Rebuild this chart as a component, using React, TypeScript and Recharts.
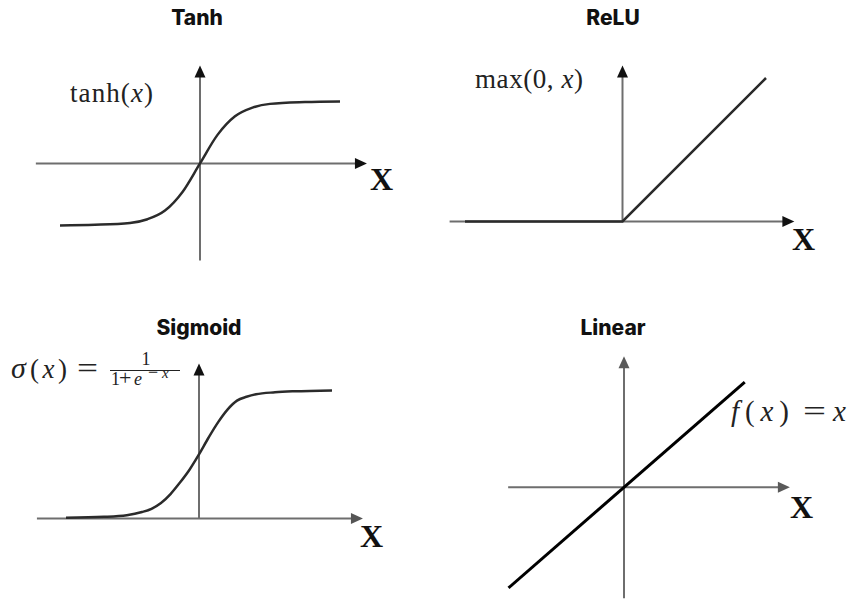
import { LineChart, Line, XAxis, YAxis, ReferenceLine } from 'recharts'

// values (x in axis units)
const tanhX = [-4, -3, -2, -1.5, -1, -0.5, 0, 0.5, 1, 1.5, 2, 3, 4]
const tanhY = [-1.0, -0.99, -0.96, -0.9, -0.76, -0.46, 0, 0.46, 0.76, 0.9, 0.96, 0.99, 1.0]

const reluX = [-4.5, 0, 4.1]
const reluY = [0, 0, 4.1]

const sigmoidX = [-7, -5, -3.8, -3, -2.5, -2, -1.5, -1, -0.5, 0, 0.5, 1, 1.5, 2, 2.5, 3, 4, 5, 7]
const sigmoidY = [0.005, 0.012, 0.025, 0.05, 0.075, 0.12, 0.19, 0.28, 0.38, 0.5, 0.63, 0.75, 0.85, 0.92, 0.95, 0.97, 0.985, 0.993, 1.0]

const linearX = [-3.3, 3.45]
const linearY = [-3.3, 3.45]

const titles = ['Tanh', 'ReLU', 'Sigmoid', 'Linear']

const AXIS = '#6e6e6e'
const CURVE = '#2b2b2b'

const toRows = (xs: number[], ys: number[]) => xs.map((x, i) => ({ x, y: ys[i] }))

// axis segment with an arrow head at its second point
const arrow = (head: string) => (p: any) => {
  const { x1, y1, x2, y2 } = p
  const len = Math.hypot(x2 - x1, y2 - y1) || 1
  const ux = (x2 - x1) / len
  const uy = (y2 - y1) / len
  const L = 12
  const W = 5.5
  const bx = x2 - ux * L
  const by = y2 - uy * L
  const pts = `${x2},${y2} ${bx - uy * W},${by + ux * W} ${bx + uy * W},${by - ux * W}`
  return (
    <g>
      <line x1={x1} y1={y1} x2={bx + ux} y2={by + uy} stroke={AXIS} strokeWidth={2} />
      <polygon points={pts} fill={head} />
    </g>
  )
}

type PanelProps = {
  left: number
  top: number
  width: number
  height: number
  xDomain: [number, number]
  yDomain: [number, number]
  xAxis: [number, number]
  yAxis: [number, number]
  xHead: string
  yHead: string
  data: { x: number; y: number }[]
  curve: 'monotone' | 'linear'
  strokeWidth: number
  color: string
}

function Panel(p: PanelProps) {
  return (
    <div style={{ position: 'absolute', left: p.left, top: p.top }}>
      <LineChart width={p.width} height={p.height} margin={{ top: 0, right: 0, bottom: 0, left: 0 }}>
        <XAxis type="number" dataKey="x" domain={p.xDomain} hide allowDataOverflow />
        <YAxis type="number" dataKey="y" domain={p.yDomain} hide allowDataOverflow />
        <ReferenceLine
          segment={[{ x: p.xAxis[0], y: 0 }, { x: p.xAxis[1], y: 0 }]}
          ifOverflow="visible"
          shape={arrow(p.xHead)}
        />
        <ReferenceLine
          segment={[{ x: 0, y: p.yAxis[0] }, { x: 0, y: p.yAxis[1] }]}
          ifOverflow="visible"
          shape={arrow(p.yHead)}
        />
        <Line
          data={p.data}
          dataKey="y"
          type={p.curve}
          stroke={p.color}
          strokeWidth={p.strokeWidth}
          dot={false}
          activeDot={false}
          isAnimationActive={false}
        />
      </LineChart>
    </div>
  )
}

const TITLE = { fontFamily: 'Inter, Roboto, sans-serif', fontWeight: 800, fontSize: 21, fill: '#111' }
const MATH = { fontFamily: '"Liberation Serif", serif', fontSize: 27, fill: '#222' }
const SMALL = { fontFamily: '"Liberation Serif", serif', fontSize: 18, fill: '#222' }
const BIGX = { fontFamily: '"Liberation Serif", serif', fontWeight: 700, fontSize: 32, fill: '#111' }

export default function App() {
  return (
    <div style={{ position: 'absolute', left: 0, top: 0, width: 850, height: 599, background: '#fff' }}>
      <Panel
        left={25} top={57.6} width={350} height={210.8}
        xDomain={[-5, 5]} yDomain={[-1.7, 1.7]}
        xAxis={[-4.69, 4.77]} yAxis={[-1.565, 1.58]}
        xHead="#111" yHead="#111"
        data={toRows(tanhX, tanhY)} curve="monotone" strokeWidth={2.5} color={CURVE}
      />
      <Panel
        left={429.5} top={63.5} width={385} height={227.5}
        xDomain={[-5.5, 5.5]} yDomain={[-2, 4.5]}
        xAxis={[-4.94, 4.91]} yAxis={[0, 4.46]}
        xHead="#111" yHead="#111"
        data={toRows(reluX, reluY)} curve="linear" strokeWidth={2.5} color={CURVE}
      />
      <Panel
        left={28} top={351.6} width={342} height={204.8}
        xDomain={[-9, 9]} yDomain={[-0.3, 1.3]}
        xAxis={[-8.53, 8.63]} yAxis={[0, 1.21]}
        xHead="#555" yHead="#111"
        data={toRows(sigmoidX, sigmoidY)} curve="monotone" strokeWidth={2.5} color={CURVE}
      />
      <Panel
        left={449} top={346.7} width={350} height={262.3}
        xDomain={[-5, 5]} yDomain={[-4, 4.6]}
        xAxis={[-3.31, 4.74]} yAxis={[-3.64, 4.3]}
        xHead="#5a5a5a" yHead="#5a5a5a"
        data={toRows(linearX, linearY)} curve="linear" strokeWidth={3} color="#000"
      />

      <svg width={850} height={599} style={{ position: 'absolute', left: 0, top: 0, pointerEvents: 'none' }}>
        <text x={197} y={25} textAnchor="middle" style={TITLE}>{titles[0]}</text>
        <text x={613} y={25} textAnchor="middle" style={TITLE}>{titles[1]}</text>
        <text x={199} y={335} textAnchor="middle" style={TITLE}>{titles[2]}</text>
        <text x={613} y={335} textAnchor="middle" style={TITLE}>{titles[3]}</text>

        <text x={70} y={102} style={MATH} textLength={83} lengthAdjust="spacing">
          tanh(<tspan fontStyle="italic">x</tspan>)
        </text>
        <text x={475} y={88} style={MATH} textLength={108} lengthAdjust="spacing">
          max(0,<tspan fontStyle="italic"> x</tspan>)
        </text>

        <text x={11} y={378} style={{ ...MATH, fontSize: 30 }} fontStyle="italic">σ</text>
        <text x={30} y={378} style={MATH} textLength={37} lengthAdjust="spacing">
          (<tspan fontStyle="italic">x</tspan>)
        </text>
        <text x={77} y={378} style={{ ...MATH, fontSize: 30 }} textLength={21} lengthAdjust="spacingAndGlyphs">=</text>
        <text x={146} y={365} textAnchor="middle" style={SMALL}>1</text>
        <line x1={110} y1={370.5} x2={180} y2={370.5} stroke="#222" strokeWidth={1} />
        <text x={111} y={385} style={SMALL}>1</text>
        <text x={119} y={385} style={{ ...SMALL, fontSize: 22 }}>+</text>
        <text x={134} y={385} style={SMALL} fontStyle="italic">e</text>
        <text x={148} y={378} style={{ ...SMALL, fontSize: 18 }}>−</text>
        <text x={162} y={378} style={{ ...SMALL, fontSize: 15 }} fontStyle="italic">x</text>

        <text x={731} y={421} style={{ ...MATH, fontSize: 29 }} textLength={58} lengthAdjust="spacing">
          <tspan fontStyle="italic">f</tspan>(<tspan fontStyle="italic">x</tspan>)
        </text>
        <text x={803} y={421} style={{ ...MATH, fontSize: 30 }} textLength={23} lengthAdjust="spacingAndGlyphs">=</text>
        <text x={833} y={421} style={{ ...MATH, fontSize: 29 }} fontStyle="italic">x</text>

        <text x={370} y={190} style={BIGX}>X</text>
        <text x={792} y={250} style={BIGX}>X</text>
        <text x={360} y={547} style={BIGX}>X</text>
        <text x={790} y={518} style={BIGX}>X</text>
      </svg>
    </div>
  )
}
